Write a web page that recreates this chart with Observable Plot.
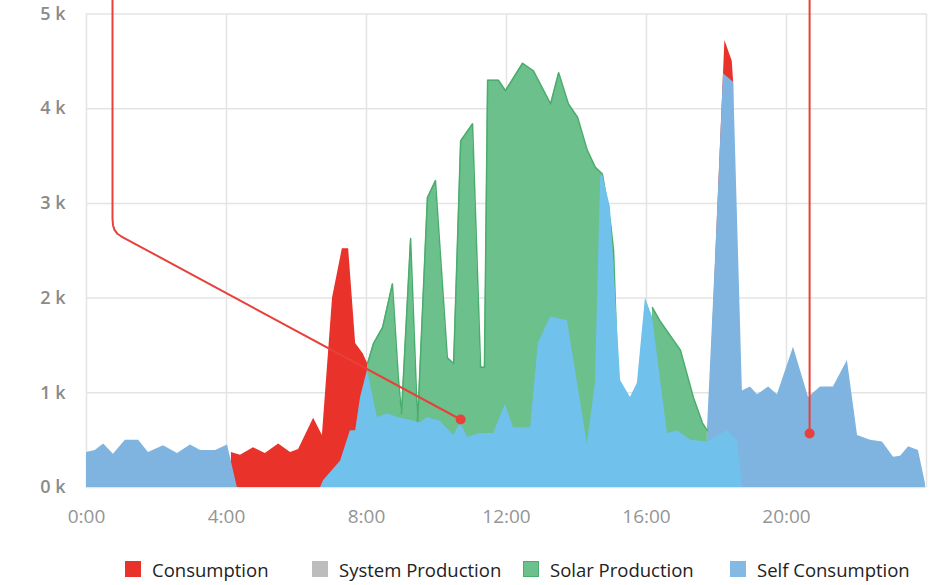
<!DOCTYPE html>
<html>
<head>
<meta charset="utf-8">
<script src="https://cdn.jsdelivr.net/npm/d3@7"></script>
<script src="https://cdn.jsdelivr.net/npm/@observablehq/plot@0.6"></script>
<style>
  html, body { margin: 0; padding: 0; background: #fff; }
  #wrap { width: 932px; height: 585px; position: relative; overflow: hidden; }
  #legend { position: relative; width: 932px; height: 45px; font-family: "Open Sans", sans-serif; font-size: 18.5px; color: #222; }
  .item { position: absolute; top: 17px; height: 24px; display: flex; align-items: center; white-space: nowrap; }
  .sw { width: 16px; height: 16px; margin-right: 11px; box-sizing: border-box; }
</style>
</head>
<body>
<div id="wrap">
  <div id="chart"></div>
  <div id="legend"></div>
</div>
<script>
// ---- data (hours, values in thousands) ----
const xTicks = [0, 4, 8, 12, 16, 20];
const xTickLabels = ["0:00", "4:00", "8:00", "12:00", "16:00", "20:00"];
const yTicks = [0, 1, 2, 3, 4, 5];
const yTickLabels = ["0 k", "1 k", "2 k", "3 k", "4 k", "5 k"];

const legendNames = ["Consumption", "System Production", "Solar Production", "Self Consumption"];
const legendColors = ["#e8322a", "#bdbdbd", "#6cc08c", "#84b9e3"];

// Consumption (red)
const consT = [4.14, 4.4, 4.77, 5.11, 5.49, 5.83, 6.06, 6.49, 6.74, 7.03, 7.31, 7.49, 7.69, 7.91, 8.03, 8.11, 8.12,
               17.77, 18.2, 18.24, 18.45, 18.49, 18.5];
const consV = [0.37, 0.34, 0.42, 0.36, 0.46, 0.37, 0.40, 0.73, 0.55, 2.0, 2.52, 2.52, 1.52, 1.41, 1.31, 0.0, null,
               0.6, 4.37, 4.72, 4.5, 4.28, 0.0];

// Night-time self consumption (steel blue)
const nightT = [0, 0.25, 0.49, 0.77, 1.11, 1.49, 1.77, 2.2, 2.6, 2.97, 3.26, 3.69, 4.03, 4.31, 4.32,
                17.74, 17.97, 18.2, 18.49, 18.74, 18.97, 19.17, 19.49, 19.74, 20.2, 20.63, 20.97, 21.34, 21.74, 22.03,
                22.4, 22.74, 23.06, 23.26, 23.49, 23.77, 23.97];
const nightV = [0.37, 0.39, 0.46, 0.35, 0.5, 0.5, 0.37, 0.44, 0.36, 0.45, 0.39, 0.39, 0.45, 0.0, null,
                0.6, 2.4, 4.37, 4.28, 1.02, 1.06, 0.98, 1.06, 0.98, 1.48, 0.95, 1.06, 1.06, 1.34, 0.55,
                0.5, 0.48, 0.32, 0.33, 0.43, 0.39, 0.04];

// Solar production (green)
const solarT = [8.03, 8.2, 8.46, 8.74, 8.91, 9.0, 9.26, 9.46, 9.74, 9.97, 10.31, 10.49, 10.69, 11.03, 11.26, 11.37,
                11.46, 11.77, 11.97, 12.46, 12.77, 13.26, 13.49, 13.77, 14.03, 14.31, 14.54, 14.74, 14.97, 15.06, 15.17, 15.18,
                16.17, 16.4, 16.97, 17.34, 17.6, 17.74];
const solarV = [1.31, 1.52, 1.69, 2.15, 1.16, 0.78, 2.63, 0.68, 3.06, 3.24, 1.37, 1.31, 3.66, 3.84, 1.27, 1.27,
                4.3, 4.3, 4.19, 4.48, 4.4, 4.05, 4.38, 4.05, 3.91, 3.56, 3.38, 3.31, 2.8, 2.5, 1.27, null,
                1.9, 1.75, 1.45, 0.95, 0.68, 0.6];

// Daytime self consumption (light blue)
const selfT = [6.69, 6.77, 7.26, 7.54, 7.69, 7.83, 8.03, 8.31, 8.6, 8.89, 9.26, 9.54, 9.74, 10.11, 10.49, 10.69,
               10.89, 11.26, 11.63, 11.97, 12.2, 12.69, 12.91, 13.26, 13.74, 14.03, 14.31, 14.54, 14.69, 14.74, 14.97,
               15.26, 15.54, 15.74, 15.97, 16.17, 16.6, 16.89, 17.26, 17.74, 18.3, 18.6, 18.75];
const selfV = [0, 0.07, 0.28, 0.6, 0.6, 0.95, 1.24, 0.74, 0.78, 0.74, 0.71, 0.68, 0.74, 0.7, 0.55, 0.68,
               0.53, 0.57, 0.57, 0.88, 0.63, 0.63, 1.52, 1.8, 1.76, 1.1, 0.46, 1.1, 3.27, 3.31, 2.96,
               1.13, 0.95, 1.1, 2.0, 1.8, 0.57, 0.6, 0.5, 0.48, 0.6, 0.5, 0];

// Annotation callouts
const ann1T = [0.743, 0.743, 0.757, 0.8, 0.88, 1.0, 10.69];
const ann1V = [5.4, 2.84, 2.77, 2.72, 2.68, 2.65, 0.718];
const ann2T = [20.66, 20.66];
const ann2V = [5.4, 0.57];

// ---- build tables ----
const rows = (T, V) => T.map((t, i) => ({t, v: V[i]}));
const cons = rows(consT, consV);
const night = rows(nightT, nightV);
const solar = rows(solarT, solarV);
const self = rows(selfT, selfV);
const ann1 = rows(ann1T, ann1V);
const ann2 = rows(ann2T, ann2V);

const area = (data, fill) => Plot.area(data, {x1: "t", y1: () => 0, y2: "v", fill, curve: "linear"});

const chart = Plot.plot({
  width: 932,
  height: 540,
  marginLeft: 86,
  marginRight: 6,
  marginTop: 13.5,
  marginBottom: 53,
  style: {background: "#fff", color: "#8a8a8a"},
  x: {domain: [0, 24], axis: null, label: null},
  y: {domain: [0, 5], axis: null, label: null},
  marks: [
    Plot.gridX([0, 4, 8, 12, 16, 20, 24], {stroke: "#e4e4e4", strokeOpacity: 1, strokeWidth: 1.5}),
    Plot.gridY(yTicks, {stroke: "#e4e4e4", strokeOpacity: 1, strokeWidth: 1.5}),
    area(cons, "#e8322a"),
    area(night, "#7eb4df"),
    area(solar, "#6cc08c"),
    Plot.line(solar, {x: "t", y: "v", stroke: "#4aac6d", strokeWidth: 1.5}),
    area(self, "#70c1ec"),
    Plot.axisX(xTicks, {label: null, tickSize: 0, tickPadding: 22, fontSize: 19, fontFamily: "Open Sans", fill: "#959595",
      tickFormat: (d) => xTickLabels[xTicks.indexOf(d)]}),
    Plot.axisY(yTicks, {label: null, tickSize: 0, tickPadding: 21, fontSize: 18, fontFamily: "Open Sans", fontWeight: 600, fill: "#8a8a8a",
      tickFormat: (d) => yTickLabels[yTicks.indexOf(d)]}),
    Plot.line(ann1, {x: "t", y: "v", stroke: "#e8403a", strokeWidth: 2}),
    Plot.line(ann2, {x: "t", y: "v", stroke: "#e8403a", strokeWidth: 2}),
    Plot.dot([ann1[ann1.length - 1], ann2[ann2.length - 1]], {x: "t", y: "v", r: 5, fill: "#e8403a"})
  ]
});
document.getElementById("chart").appendChild(chart);

// ---- legend ----
const legendLeft = [125, 312, 523, 730];
const legend = document.getElementById("legend");
legendNames.forEach((name, i) => {
  const it = document.createElement("div");
  it.className = "item";
  it.style.left = legendLeft[i] + "px";
  const sw = document.createElement("span");
  sw.className = "sw";
  sw.style.background = legendColors[i];
  if (name === "Solar Production") sw.style.border = "1.5px solid #4aac6d";
  const tx = document.createElement("span");
  tx.textContent = name;
  it.appendChild(sw);
  it.appendChild(tx);
  legend.appendChild(it);
});
</script>
</body>
</html>
